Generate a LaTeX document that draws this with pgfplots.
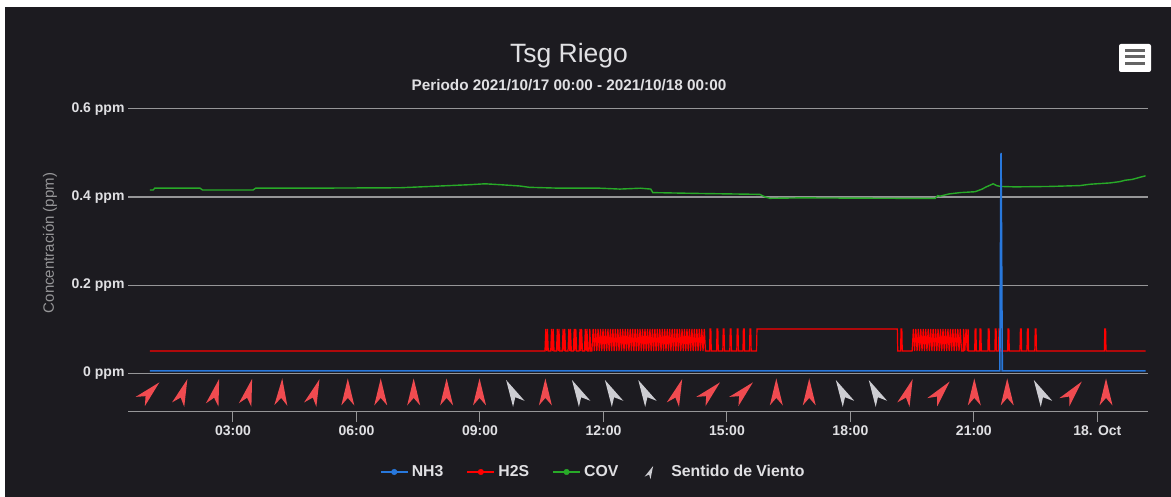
\documentclass[border=0pt]{standalone}
\usepackage{fontspec}
\setmainfont{Liberation Sans}
\usepackage{pgfplots}
\usepackage{pgfplotstable}
\pgfplotsset{compat=1.18}
\definecolor{bgdark}{RGB}{28,27,32}
\definecolor{gridc}{RGB}{150,150,152}
\definecolor{txt}{RGB}{224,224,227}
\definecolor{axtitle}{RGB}{150,150,152}
\definecolor{nhblue}{RGB}{40,120,220}
\definecolor{hsred}{RGB}{255,0,0}
\definecolor{covgreen}{RGB}{40,170,40}
\definecolor{arrowred}{RGB}{240,75,80}
\definecolor{arrowgrey}{RGB}{205,205,210}
\definecolor{iconline}{RGB}{100,100,100}

\pgfdeclareplotmark{windarrow}{%
  \pgfpathmoveto{\pgfqpoint{0pt}{13.5pt}}%
  \pgfpathlineto{\pgfqpoint{6.5pt}{-13.5pt}}%
  \pgfpathlineto{\pgfqpoint{0pt}{-6pt}}%
  \pgfpathlineto{\pgfqpoint{-6.5pt}{-13.5pt}}%
  \pgfpathclose
  \pgfusepathqfill
}

\pgfplotstableread{
x ang
0.98 -45
1.78 -20
2.58 -15
3.38 -15
4.18 -3
4.99 -20
5.79 0
6.59 0
7.39 0
8.19 0
8.99 0
10.59 0
13.80 -20
14.60 -45
15.40 -45
16.20 0
17.00 0
19.40 -20
20.20 -40
21.01 0
21.81 0
23.41 -40
24.21 0
}\windred

\pgfplotstableread{
x ang
9.79 28
11.39 28
12.19 28
13.00 28
17.80 28
18.60 28
22.61 28
}\windgrey

\pgfplotstableread{
x y
0.98 0.005
21.63 0.005
21.66 0.5
21.69 0.005
25.17 0.005
}\nhthree

\pgfplotstableread{
x y
0.98 0.416
1.06 0.416
1.10 0.420
2.20 0.420
2.26 0.416
3.49 0.416
3.55 0.420
4.63 0.420
7.06 0.421
7.55 0.423
8.03 0.425
8.76 0.428
9.12 0.430
9.49 0.428
9.97 0.425
10.2 0.422
10.95 0.420
11.92 0.420
12.4 0.418
12.9 0.420
13.15 0.418
13.2 0.410
14.35 0.408
15.8 0.406
15.93 0.400
16.05 0.397
16.78 0.398
19.2 0.397
20.06 0.397
20.12 0.403
20.18 0.402
20.4 0.407
20.67 0.410
21.03 0.412
21.2 0.418
21.3 0.423
21.47 0.430
21.55 0.426
21.64 0.424
22.0 0.423
22.85 0.424
23.58 0.426
23.82 0.429
24.31 0.432
24.55 0.435
24.67 0.438
24.85 0.440
25.04 0.445
25.17 0.448
}\cov

\pgfplotstableread{
x y
0.98 0.05
10.58 0.05
10.60 0.1
10.62 0.05
10.64 0.1
10.66 0.05
10.72 0.05
10.74 0.1
10.76 0.05
10.78 0.1
10.80 0.05
10.86 0.05
10.88 0.1
10.90 0.05
10.92 0.1
10.94 0.05
11.00 0.05
11.02 0.1
11.04 0.05
11.06 0.1
11.08 0.05
11.14 0.05
11.16 0.1
11.18 0.05
11.20 0.1
11.22 0.05
11.27 0.05
11.29 0.1
11.31 0.05
11.33 0.1
11.35 0.05
11.41 0.05
11.43 0.1
11.45 0.05
11.47 0.1
11.49 0.05
11.54 0.05
11.56 0.1
11.58 0.05
11.60 0.1
11.62 0.05
11.65 0.05
11.67 0.1
11.69 0.05
11.72 0.05
11.75 0.1
11.78 0.05
11.81 0.1
11.84 0.05
11.87 0.1
11.90 0.05
11.93 0.1
11.96 0.05
11.99 0.1
12.02 0.05
12.05 0.1
12.08 0.05
12.11 0.1
12.14 0.05
12.17 0.1
12.20 0.05
12.23 0.1
12.26 0.05
12.29 0.1
12.32 0.05
12.35 0.1
12.38 0.05
12.41 0.1
12.44 0.05
12.47 0.1
12.50 0.05
12.53 0.1
12.56 0.05
12.59 0.1
12.62 0.05
12.65 0.1
12.68 0.05
12.71 0.1
12.74 0.05
12.77 0.1
12.80 0.05
12.83 0.1
12.86 0.05
12.89 0.1
12.92 0.05
12.95 0.1
12.98 0.05
13.01 0.1
13.04 0.05
13.07 0.1
13.10 0.05
13.13 0.1
13.16 0.05
13.19 0.1
13.22 0.05
13.25 0.1
13.28 0.05
13.31 0.1
13.34 0.05
13.37 0.1
13.40 0.05
13.43 0.1
13.46 0.05
13.49 0.1
13.52 0.05
13.55 0.1
13.58 0.05
13.61 0.1
13.64 0.05
13.67 0.1
13.70 0.05
13.73 0.1
13.76 0.05
13.79 0.1
13.82 0.05
13.85 0.1
13.88 0.05
13.91 0.1
13.94 0.05
13.97 0.1
14.00 0.05
14.03 0.1
14.06 0.05
14.09 0.1
14.12 0.05
14.15 0.1
14.18 0.05
14.21 0.1
14.24 0.05
14.27 0.1
14.30 0.05
14.33 0.1
14.36 0.05
14.39 0.1
14.42 0.05
14.45 0.1
14.48 0.05
14.58 0.05
14.59 0.1
14.61 0.1
14.62 0.05
14.75 0.05
14.76 0.1
14.78 0.1
14.79 0.05
14.90 0.05
14.91 0.1
14.93 0.1
14.94 0.05
15.07 0.05
15.08 0.1
15.10 0.1
15.11 0.05
15.24 0.05
15.25 0.1
15.27 0.1
15.28 0.05
15.39 0.05
15.40 0.1
15.42 0.1
15.43 0.05
15.55 0.05
15.56 0.1
15.58 0.1
15.59 0.05
15.72 0.05
15.73 0.1
19.14 0.1
19.15 0.05
19.22 0.05
19.23 0.1
19.25 0.1
19.26 0.05
19.50 0.05
19.53 0.1
19.56 0.05
19.59 0.1
19.62 0.05
19.65 0.1
19.68 0.05
19.71 0.1
19.74 0.05
19.77 0.1
19.80 0.05
19.83 0.1
19.86 0.05
19.89 0.1
19.92 0.05
19.95 0.1
19.98 0.05
20.01 0.1
20.04 0.05
20.07 0.1
20.10 0.05
20.13 0.1
20.16 0.05
20.19 0.1
20.22 0.05
20.25 0.1
20.28 0.05
20.31 0.1
20.34 0.05
20.37 0.1
20.40 0.05
20.43 0.1
20.46 0.05
20.49 0.1
20.52 0.05
20.55 0.1
20.58 0.05
20.61 0.1
20.64 0.05
20.67 0.1
20.70 0.05
20.74 0.05
20.75 0.1
20.78 0.05
20.81 0.1
20.84 0.05
20.86 0.1
20.87 0.05
21.02 0.05
21.03 0.1
21.05 0.1
21.06 0.05
21.14 0.05
21.15 0.1
21.17 0.1
21.18 0.05
21.34 0.05
21.35 0.1
21.37 0.1
21.38 0.05
21.51 0.05
21.52 0.1
21.54 0.1
21.55 0.05
21.60 0.05
21.61 0.1
21.63 0.1
21.64 0.05
21.82 0.05
21.83 0.1
21.85 0.1
21.86 0.05
22.12 0.05
22.13 0.1
22.15 0.1
22.16 0.05
22.29 0.05
22.30 0.1
22.32 0.1
22.33 0.05
22.48 0.05
22.49 0.1
22.51 0.1
22.52 0.05
24.17 0.05
24.18 0.1
24.20 0.1
24.21 0.05
25.17 0.05
}\htwos

\begin{document}
\begin{tikzpicture}[x=1pt,y=1pt]
\fill[white] (0,0) rectangle (1171,497);
\fill[bgdark] (5,0) rectangle (1171,490);
% title
\node[text=txt, font=\fontsize{26.5}{30}\selectfont] at (569,441) {Tsg Riego};
\node[text=txt, font=\bfseries\fontsize{15.3}{18}\selectfont] at (569,412) {Periodo 2021/10/17 00:00 - 2021/10/18 00:00};
% y axis title
\node[rotate=90, text=axtitle, font=\fontsize{15}{17}\selectfont] at (50,254) {Concentración (ppm)};
% menu icon
\fill[white, rounded corners=2pt] (1119,425) rectangle (1151,453);
\draw[iconline, line width=3pt] (1125,446.3) -- (1145,446.3);
\draw[iconline, line width=3pt] (1125,440.3) -- (1145,440.3);
\draw[iconline, line width=3pt] (1125,433.7) -- (1145,433.7);

\begin{axis}[
  at={(128pt,85pt)}, anchor=south west,
  width=1020pt, height=303pt, scale only axis,
  xmin=0.45, xmax=25.23, ymin=-0.0886, ymax=0.6,
  axis x line*=bottom, axis y line*=left,
  x axis line style={draw=gridc, line width=1pt, -},
  y axis line style={draw=none},
  xtick={3,6,9,12,15,18,21,24},
  xticklabels={03:00,06:00,09:00,12:00,15:00,18:00,21:00,18. Oct},
  ytick={0,0.2,0.4,0.6},
  yticklabels={0 ppm,0.2 ppm,0.4 ppm,0.6 ppm},
  xtick align=outside,
  xtick style={draw=gridc, line width=1pt},
  major tick length=10pt,
  ytick style={draw=none},
  ymajorgrids, grid style={draw=gridc, line width=1pt},
  ticklabel style={font=\bfseries\fontsize{14}{16}\selectfont, text=txt},
  legend columns=-1,
  legend style={draw=none, fill=none, at={(axis description cs:0.456,-0.198)}, anchor=center,
    font=\bfseries\fontsize{15.8}{18}\selectfont, text=txt,
    /tikz/every odd column/.append style={column sep=1pt},
    /tikz/every even column/.append style={column sep=21pt}},
  legend image code/.code={\draw[line width=2pt] (0pt,0pt) -- (27pt,0pt); \fill (13.5pt,0pt) circle (2.8pt);},
]
\addplot[hsred, line width=1.2pt, forget plot] table {\htwos};
\addplot[covgreen, line width=1.4pt, forget plot] table {\cov};
\addplot[nhblue, line width=1.6pt, forget plot] table {\nhthree};
\addplot[only marks, mark=windarrow, color=arrowred, forget plot,
  visualization depends on={\thisrow{ang}\as\ang},
  every mark/.append style={rotate=\ang}] table[x=x, y expr=-0.043] {\windred};
\addplot[only marks, mark=windarrow, color=arrowgrey, forget plot,
  visualization depends on={\thisrow{ang}\as\ang},
  every mark/.append style={rotate=\ang}] table[x=x, y expr=-0.043] {\windgrey};
\addlegendimage{color=nhblue}
\addlegendentry{NH3}
\addlegendimage{color=hsred}
\addlegendentry{H2S}
\addlegendimage{color=covgreen}
\addlegendentry{COV}
\addlegendimage{legend image code/.code={\path[draw=none, fill=none] (0pt,0pt) -- (27pt,0pt); \fill[arrowgrey, draw=none, shift={(9pt,0pt)}, rotate=-25] (0pt,6.5pt) -- (3.2pt,-6.5pt) -- (0pt,-2.8pt) -- (-3.2pt,-6.5pt) -- cycle;}}
\addlegendentry{Sentido de Viento}
\end{axis}
\pgfresetboundingbox
\useasboundingbox (0,0) rectangle (1171,497);
\end{tikzpicture}
\end{document}
